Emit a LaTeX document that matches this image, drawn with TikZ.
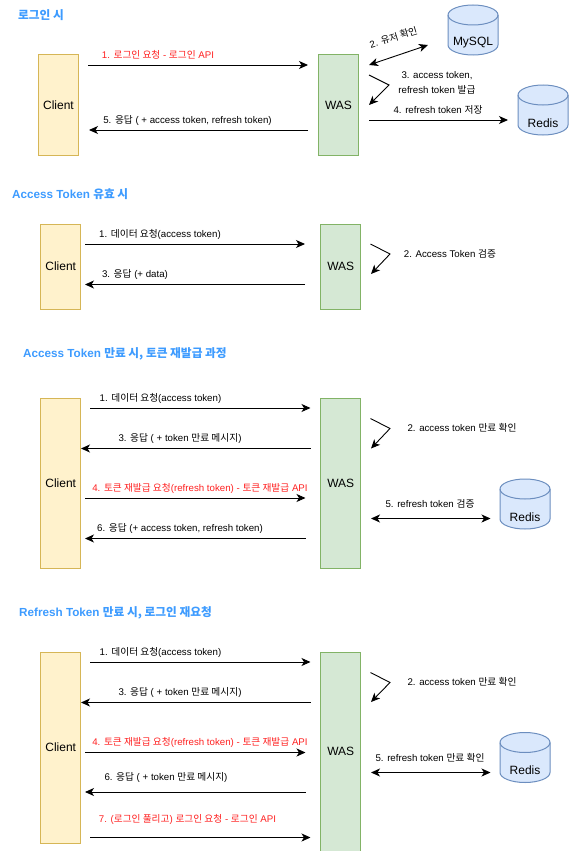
\documentclass[tikz,border=0pt]{standalone}
\usepackage{fontspec}
\setmainfont{Liberation Sans}
\newfontfamily\krfont{Noto Sans CJK KR}
\newcommand{\ko}[1]{{\krfont #1}}
\usetikzlibrary{arrows.meta}
\definecolor{ttl}{HTML}{3D9BFF}
\definecolor{redt}{HTML}{FF2020}
\definecolor{clientline}{HTML}{D6B656}
\definecolor{clientfill}{HTML}{FFF2CC}
\definecolor{wasline}{HTML}{82B366}
\definecolor{wasfill}{HTML}{D5E8D4}
\definecolor{dbline}{HTML}{6C8EBF}
\definecolor{dbfill}{HTML}{DAE8FC}
\tikzset{
  clientbox/.style={draw=clientline,fill=clientfill,line width=1pt,minimum width=40pt,inner sep=0pt,font=\fontsize{12}{14}\selectfont},
  wasbox/.style={draw=wasline,fill=wasfill,line width=1pt,minimum width=40pt,inner sep=0pt,font=\fontsize{12}{14}\selectfont},
  dbshape/.style={draw=dbline,fill=dbfill,line width=1pt},
  dbtext/.style={inner sep=0pt,font=\fontsize{12}{14}\selectfont},
  ttltext/.style={anchor=west,inner sep=0pt,text=ttl,font=\fontsize{11.7}{13}\selectfont\bfseries},
  lbl/.style={inner sep=0pt,align=center,font=\fontsize{9.7}{14.5}\selectfont},
  redlbl/.style={lbl,text=redt},
  arr/.style={-{Stealth[length=9pt,width=8pt,inset=2.5pt]},line width=.9pt},
  dblarr/.style={{Stealth[length=9pt,width=8pt,inset=2.5pt]}-{Stealth[length=9pt,width=8pt,inset=2.5pt]},line width=.9pt},
}
% #1 node name, #2 x centre, #3 y centre, #4 text
\newcommand{\dbcylinder}[4]{%
  \draw[dbshape] (#2-25,#3-15) -- (#2-25,#3+15)
     arc[start angle=180,end angle=360,x radius=25pt,y radius=10pt]
     -- (#2+25,#3-15)
     arc[start angle=0,end angle=180,x radius=25pt,y radius=10pt] -- cycle;
  \draw[dbshape,fill=none] (#2-25,#3-15) arc[start angle=180,end angle=360,x radius=25pt,y radius=10pt];
  \node[dbtext] (#1) at (#2,#3+13) {#4};
}
\begin{document}
\begin{tikzpicture}[x=1pt,y=-1pt]
\useasboundingbox (0,0) rectangle (569,851);
% Section 1
\node[ttltext] (t1) at (18,15) {\ko{로그인 시}};
\node[clientbox,minimum height=100pt] (c1) at (58.5,105) {Client};
\node[wasbox,minimum height=100pt] (w1) at (338.5,105) {WAS};
\dbcylinder{my1}{473}{30}{MySQL}
\dbcylinder{re1}{543}{110}{Redis}
\coordinate (a1a) at (88,65); \coordinate (a1b) at (308,65);
\draw[arr] (a1a) -- (a1b);
\node[redlbl] (l1a) at (158,55) {1. \ko{로그인 요청} - \ko{로그인} API};
\coordinate (a1c) at (369,65); \coordinate (a1d) at (428,45);
\draw[dblarr] (a1c) -- (a1d);
\node[lbl,rotate=17] (l1b) at (393.5,37.5) {2. \ko{유저 확인}};
\coordinate (a1e) at (369,75); \coordinate (a1f) at (389,85); \coordinate (a1g) at (369,105);
\draw[arr] (a1e) -- (a1f) -- (a1g);
\node[lbl] (l1c) at (437,83) {3. access token,\\refresh token \ko{발급}};
\coordinate (a1h) at (369,120); \coordinate (a1i) at (508,120);
\draw[arr] (a1h) -- (a1i);
\node[lbl] (l1d) at (438,110) {4. refresh token \ko{저장}};
\coordinate (a1j) at (308,130); \coordinate (a1k) at (89,130);
\draw[arr] (a1j) -- (a1k);
\node[lbl] (l1e) at (187.5,120) {5. \ko{응답} ( + access token, refresh token)};
% Section 2
\node[ttltext] (t2) at (12,194) {Access Token \ko{유효 시}};
\node[clientbox,minimum height=85pt] (c2) at (60.7,266.5) {Client};
\node[wasbox,minimum height=85pt] (w2) at (340.7,266.5) {WAS};
\coordinate (a2a) at (85,244); \coordinate (a2b) at (305,244);
\draw[arr] (a2a) -- (a2b);
\node[lbl] (l2a) at (160,234.5) {1. \ko{데이터 요청}(access token)};
\coordinate (a2c) at (370.5,244); \coordinate (a2d) at (390,254); \coordinate (a2e) at (371,274);
\draw[arr] (a2c) -- (a2d) -- (a2e);
\node[lbl] (l2b) at (450,253.5) {2. Access Token \ko{검증}};
\coordinate (a2f) at (305,284.5); \coordinate (a2g) at (85,284.5);
\draw[arr] (a2f) -- (a2g);
\node[lbl] (l2c) at (135,274) {3. \ko{응답} (+ data)};
% Section 3
\node[ttltext] (t3) at (23,354) {Access Token \ko{만료 시, 토큰 재발급 과정}};
\node[clientbox,minimum height=170pt] (c3) at (60.7,483) {Client};
\node[wasbox,minimum height=170pt] (w3) at (340.7,483) {WAS};
\dbcylinder{re3}{525}{504}{Redis}
\coordinate (a3a) at (90,408); \coordinate (a3b) at (310.5,408);
\draw[arr] (a3a) -- (a3b);
\node[lbl] (l3a) at (160.5,398.5) {1. \ko{데이터 요청}(access token)};
\coordinate (a3c) at (370.5,418.5); \coordinate (a3d) at (390,428.5); \coordinate (a3e) at (371,448.5);
\draw[arr] (a3c) -- (a3d) -- (a3e);
\node[lbl] (l3b) at (462,428) {2. access token \ko{만료 확인}};
\coordinate (a3f) at (310.5,448.5); \coordinate (a3g) at (81,448.5);
\draw[arr] (a3f) -- (a3g);
\node[lbl] (l3c) at (180,438.5) {3. \ko{응답} ( + token \ko{만료 메시지})};
\coordinate (a3h) at (85,498); \coordinate (a3i) at (305.5,498);
\draw[arr] (a3h) -- (a3i);
\node[redlbl] (l3d) at (200,488.5) {4. \ko{토큰 재발급 요청}(refresh token) - \ko{토큰 재발급} API};
\coordinate (a3j) at (371,518.5); \coordinate (a3k) at (490.5,518.5);
\draw[dblarr] (a3j) -- (a3k);
\node[lbl] (l3e) at (430,503.5) {5. refresh token \ko{검증}};
\coordinate (a3l) at (305.5,538.5); \coordinate (a3m) at (85,538.5);
\draw[arr] (a3l) -- (a3m);
\node[lbl] (l3f) at (180,528.5) {6. \ko{응답} (+ access token, refresh token)};
% Section 4
\node[ttltext] (t4) at (19,613) {Refresh Token \ko{만료 시, 로그인 재요청}};
\node[clientbox,minimum height=191pt] (c4) at (60.7,747.5) {Client};
\node[wasbox,minimum height=199pt] (w4) at (340.7,751.5) {WAS};
\dbcylinder{re4}{525}{757.5}{Redis}
\coordinate (a4a) at (90,662); \coordinate (a4b) at (310.5,662);
\draw[arr] (a4a) -- (a4b);
\node[lbl] (l4a) at (160.5,652.5) {1. \ko{데이터 요청}(access token)};
\coordinate (a4c) at (370.5,672.5); \coordinate (a4d) at (390,682.5); \coordinate (a4e) at (371,702);
\draw[arr] (a4c) -- (a4d) -- (a4e);
\node[lbl] (l4b) at (462,682) {2. access token \ko{만료 확인}};
\coordinate (a4f) at (310.5,702.5); \coordinate (a4g) at (81,702.5);
\draw[arr] (a4f) -- (a4g);
\node[lbl] (l4c) at (180,692.5) {3. \ko{응답} ( + token \ko{만료 메시지})};
\coordinate (a4h) at (85,752.5); \coordinate (a4i) at (305.5,752.5);
\draw[arr] (a4h) -- (a4i);
\node[redlbl] (l4d) at (200,742.5) {4. \ko{토큰 재발급 요청}(refresh token) - \ko{토큰 재발급} API};
\coordinate (a4j) at (371,772.5); \coordinate (a4k) at (490.5,772.5);
\draw[dblarr] (a4j) -- (a4k);
\node[lbl] (l4e) at (430,757.5) {5. refresh token \ko{만료 확인}};
\coordinate (a4l) at (305.5,792); \coordinate (a4m) at (85,792);
\draw[arr] (a4l) -- (a4m);
\node[lbl] (l4f) at (166,777.5) {6. \ko{응답} ( + token \ko{만료 메시지})};
\coordinate (a4n) at (90,837.5); \coordinate (a4o) at (310.5,837.5);
\draw[arr] (a4n) -- (a4o);
\node[redlbl] (l4g) at (187.5,819) {7. (\ko{로그인 풀리고}) \ko{로그인 요청} - \ko{로그인} API};
\end{tikzpicture}
\end{document}
